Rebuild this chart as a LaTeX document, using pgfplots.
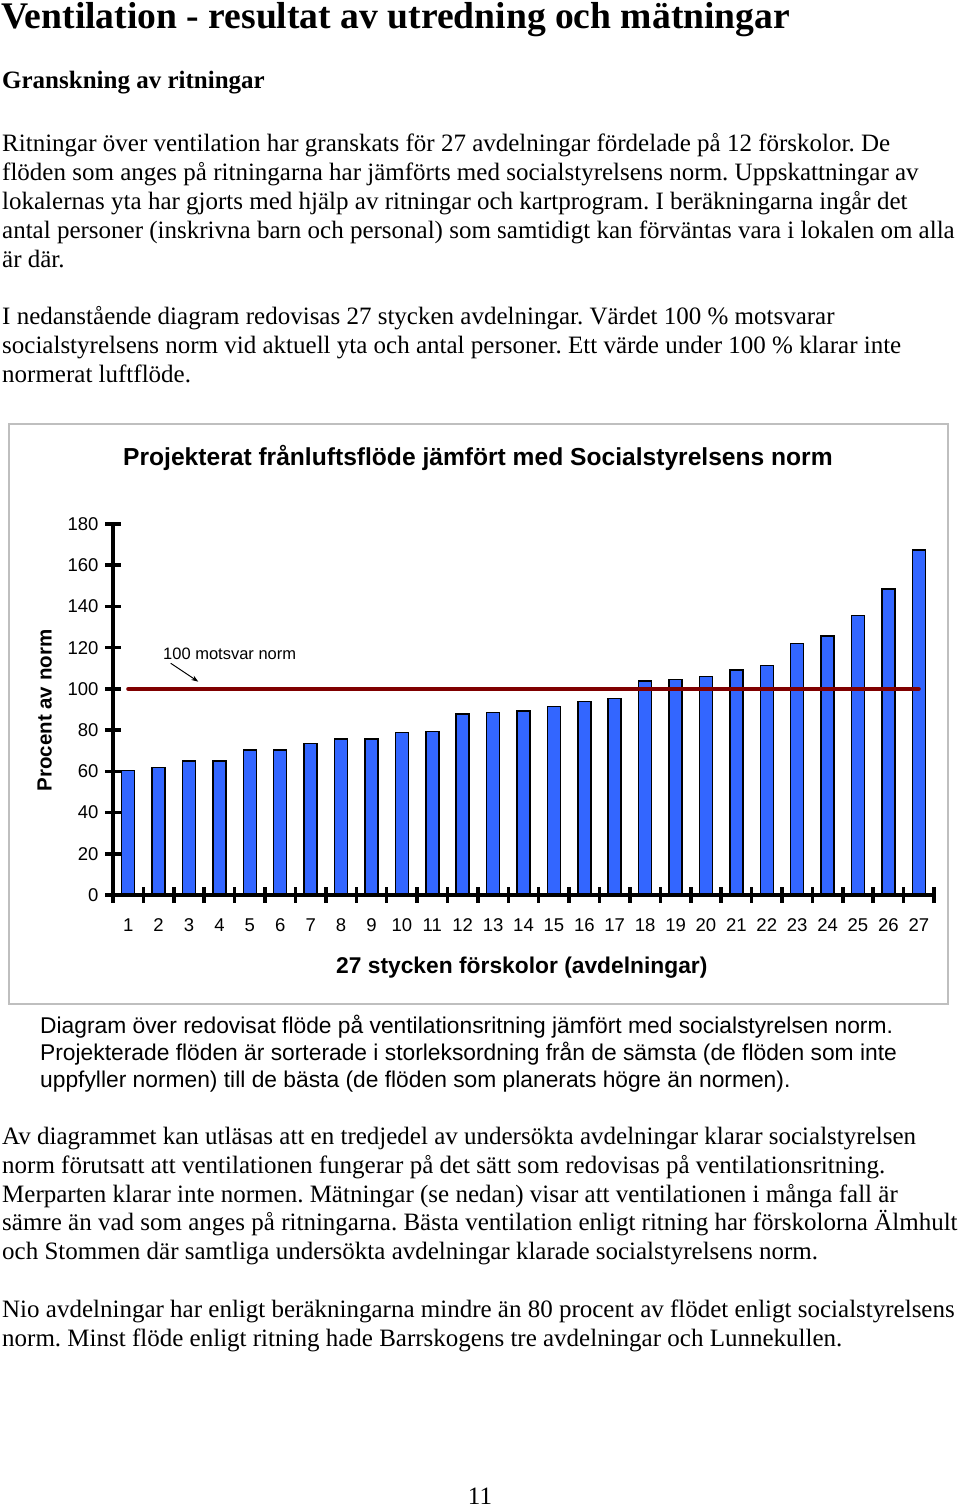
\documentclass[border=0pt]{standalone}
\usepackage{fontspec}
\setmainfont{Liberation Serif}
\newfontfamily\arial{Liberation Sans}
\usepackage{pgfplots}
\pgfplotsset{compat=1.18}
\usetikzlibrary{arrows.meta}
\definecolor{barblue}{HTML}{3366FF}
\definecolor{normred}{HTML}{800000}
\definecolor{framegray}{HTML}{BFBFBF}
\newcommand\bodyf{\fontsize{25bp}{29bp}\selectfont}
\newcommand\capf{\arial\fontsize{22.8bp}{27bp}\selectfont}
\frenchspacing
\begin{document}
\begin{tikzpicture}[x=1bp,y=1bp]
\path[use as bounding box, fill=white] (0,0) rectangle (960,1508);
\begin{scope}[y=-1bp, shift={(0,1508bp)}]
  \node[anchor=base west, inner sep=0pt, font=\bfseries\fontsize{37.6bp}{40bp}\selectfont] at (1,29) {Ventilation - resultat av utredning och mätningar};
  \node[anchor=base west, inner sep=0pt, font=\bfseries\bodyf] at (2,88.5) {Granskning av ritningar};
  \begin{scope}[every node/.style={anchor=base west, inner sep=0pt, font=\bodyf}]
  \node at (2,151.5) {Ritningar över ventilation har granskats för 27 avdelningar fördelade på 12 förskolor. De};
  \node at (2,180.5) {flöden som anges på ritningarna har jämförts med socialstyrelsens norm. Uppskattningar av};
  \node at (2,209.5) {lokalernas yta har gjorts med hjälp av ritningar och kartprogram. I beräkningarna ingår det};
  \node at (2,238.5) {antal personer (inskrivna barn och personal) som samtidigt kan förväntas vara i lokalen om alla};
  \node at (2,267.5) {är där.};
  \node at (2,324.5) {I nedanstående diagram redovisas 27 stycken avdelningar. Värdet 100 \% motsvarar};
  \node at (2,353.5) {socialstyrelsens norm vid aktuell yta och antal personer. Ett värde under 100 \% klarar inte};
  \node at (2,382.5) {normerat luftflöde.};
  \node at (2,1144.5) {Av diagrammet kan utläsas att en tredjedel av undersökta avdelningar klarar socialstyrelsen};
  \node at (2,1173.5) {norm förutsatt att ventilationen fungerar på det sätt som redovisas på ventilationsritning.};
  \node at (2,1202.5) {Merparten klarar inte normen. Mätningar (se nedan) visar att ventilationen i många fall är};
  \node at (2,1231) {sämre än vad som anges på ritningarna. Bästa ventilation enligt ritning har förskolorna Älmhult};
  \node at (2,1260) {och Stommen där samtliga undersökta avdelningar klarade socialstyrelsens norm.};
  \node at (2,1317.5) {Nio avdelningar har enligt beräkningarna mindre än 80 procent av flödet enligt socialstyrelsens};
  \node at (2,1346.5) {norm. Minst flöde enligt ritning hade Barrskogens tre avdelningar och Lunnekullen.};
  \node[anchor=base] at (480,1505) {11};
  \end{scope}
  \begin{scope}[every node/.style={anchor=base west, inner sep=0pt, font=\capf}]
  \node at (40,1033.5) {Diagram över redovisat flöde på ventilationsritning jämfört med socialstyrelsen norm.};
  \node at (40,1060.5) {Projekterade flöden är sorterade i storleksordning från de sämsta (de flöden som inte};
  \node at (40,1087.5) {uppfyller normen) till de bästa (de flöden som planerats högre än normen).};
  \end{scope}
  % chart frame and texts
  \draw[framegray, line width=1.5bp] (9,424) rectangle (948,1004);
  \node[anchor=base west, inner sep=0pt, font=\arial\bfseries\fontsize{24.6bp}{26bp}\selectfont] at (123,465.5) {Projekterat frånluftsflöde jämfört med Socialstyrelsens norm};
  \node[anchor=base west, inner sep=0pt, font=\arial\bfseries\fontsize{22.8bp}{24bp}\selectfont] at (336,973.3) {27 stycken förskolor (avdelningar)};
  \node[anchor=base west, inner sep=0pt, rotate=90, font=\arial\bfseries\fontsize{20.5bp}{22bp}\selectfont] at (51.7,791.7) {Procent av norm};
  \node[anchor=base west, inner sep=0pt, font=\arial\fontsize{16.5bp}{18bp}\selectfont] at (163,660) {100 motsvar norm};
  \draw[line width=1bp, -{Stealth[length=7bp,width=5bp]}] (170.7,663.3) -- (198.3,681.7);
\end{scope}
\begin{axis}[
  at={(113bp,613bp)}, anchor=south west,
  scale only axis, width=821bp, height=371bp,
  xmin=0.5, xmax=27.5, ymin=0, ymax=180,
  axis x line=bottom, axis y line=left,
  axis line style={-, line width=4bp, black},
  axis on top,
  ytick={0,20,...,180},
  xtick={0.5,1.5,...,27.5},
  x tick label as interval,
  xticklabels={1,2,3,4,5,6,7,8,9,10,11,12,13,14,15,16,17,18,19,20,21,22,23,24,25,26,27},
  major tick length=16bp, tick align=center,
  tick style={line width=3.5bp, black},
  tick label style={font=\arial\fontsize{18.5bp}{20bp}\selectfont},
  xticklabel style={yshift=-12bp},
  yticklabel style={xshift=-3bp},
  /pgf/number format/assume math mode=true,
  clip=false,
]
\addplot[ybar, bar width=13bp, fill=barblue, draw=black, line width=1.5bp] coordinates {
(1,60.4) (2,61.9) (3,65.1) (4,65.1) (5,70.3) (6,70.3) (7,73.4) (8,75.7) (9,75.7)
(10,78.8) (11,79.4) (12,87.8) (13,88.5) (14,89.3) (15,91.5) (16,93.8) (17,95.4)
(18,103.7) (19,104.5) (20,106.0) (21,109.1) (22,111.3) (23,122.0) (24,125.6)
(25,135.6) (26,148.4) (27,167.4)};
\addplot[sharp plot, normred, line width=4bp, line cap=round] coordinates {(1,100) (27,100)};
\end{axis}
\end{tikzpicture}
\end{document}
